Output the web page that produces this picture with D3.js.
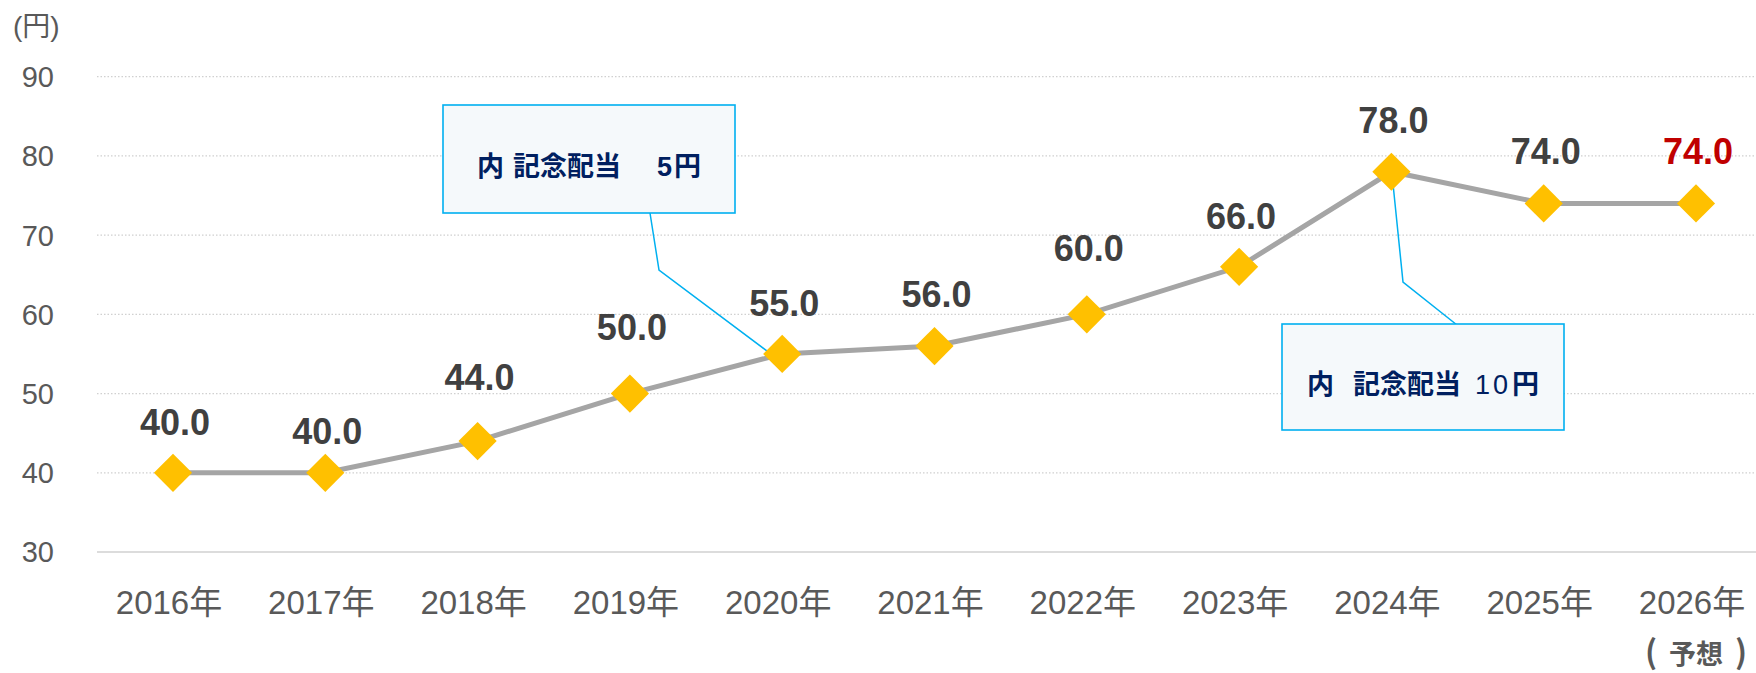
<!DOCTYPE html>
<html>
<head>
<meta charset="utf-8">
<script src="https://cdn.jsdelivr.net/npm/d3@7"></script>
<style>
  body { margin: 0; background: #fff; }
  text { font-family: "Liberation Sans", Arial, "Noto Sans CJK JP", sans-serif; }
</style>
</head>
<body>
<div id="container"></div>
<script>
let w = 1756;
let h = 673;

// DATA
let years = ["2016年", "2017年", "2018年", "2019年", "2020年", "2021年", "2022年", "2023年", "2024年", "2025年", "2026年"];
let dividends = [40, 40, 44, 50, 55, 56, 60, 66, 78, 74, 74];
let yTicks = [30, 40, 50, 60, 70, 80, 90];
let forecastNote = ["(", "予想", ")"];
let unitLabel = "(円)";

// how far each value label sits above its marker (px)
let labelLift = [38, 29, 51, 54, 38, 39, 53, 38, 39, 39, 39];

let viz = d3.select("#container").append("svg")
  .attr("width", w)
  .attr("height", h)
  .style("display", "block");

let x = d3.scalePoint().domain(years).range([173, 1696]);
let y = d3.scaleLinear().domain([30, 90]).range([552, 76.7]);

let gridLeft = 97;
let gridRight = w;

// gridlines
viz.selectAll(".grid").data(yTicks).enter()
  .append("line")
  .attr("class", "grid")
  .attr("x1", gridLeft)
  .attr("x2", gridRight)
  .attr("y1", d => y(d))
  .attr("y2", d => y(d))
  .attr("stroke", "#d0d0d0")
  .attr("stroke-width", d => d == 30 ? 1.5 : 1.3)
  .attr("stroke-dasharray", d => d == 30 ? null : "1.5,2");

// y tick labels
viz.selectAll(".ytick").data(yTicks).enter()
  .append("text")
  .attr("class", "ytick")
  .attr("x", 54)
  .attr("y", d => y(d))
  .attr("dy", "0.36em")
  .attr("text-anchor", "end")
  .attr("font-size", 29)
  .attr("fill", "#595959")
  .text(d => d);

viz.append("text")
  .attr("x", 13)
  .attr("y", 36)
  .attr("font-size", 28)
  .attr("fill", "#595959")
  .text(unitLabel);

// x labels
viz.selectAll(".xtick").data(years).enter()
  .append("text")
  .attr("class", "xtick")
  .attr("x", d => x(d) - 4)
  .attr("y", 614)
  .attr("text-anchor", "middle")
  .attr("font-size", 33)
  .attr("fill", "#595959")
  .text(d => d);

// "(予想)" under the last year, spread out like full-width brackets
let lastX = x(years[years.length - 1]);
let noteOffsets = [-45, 0, 45];
let noteSizes = [32, 27, 32];
viz.selectAll(".forecast").data(forecastNote).enter()
  .append("text")
  .attr("class", "forecast")
  .attr("x", (d, i) => lastX + noteOffsets[i])
  .attr("y", 664)
  .attr("text-anchor", "middle")
  .attr("font-size", (d, i) => noteSizes[i])
  .attr("font-weight", "bold")
  .attr("fill", "#595959")
  .style("font-family", "'Noto Sans CJK JP', sans-serif")
  .text(d => d);

// annotation leader lines (drawn under the markers)
let lineColor = "#00b0f0";
let i2020 = years.indexOf("2020年");
let i2024 = years.indexOf("2024年");

viz.append("polyline")
  .attr("points", [[650, 213], [659, 270], [x(years[i2020]) - 14, y(dividends[i2020]) - 2]].join(" "))
  .attr("fill", "none")
  .attr("stroke", lineColor)
  .attr("stroke-width", 1.5);

viz.append("polyline")
  .attr("points", [[x(years[i2024]) + 2, y(dividends[i2024]) + 16], [1403, 282], [1457, 325]].join(" "))
  .attr("fill", "none")
  .attr("stroke", lineColor)
  .attr("stroke-width", 1.5);

// line
let lineMaker = d3.line()
  .x((d, i) => x(years[i]))
  .y(d => y(d));

viz.append("path")
  .datum(dividends)
  .attr("d", lineMaker)
  .attr("fill", "none")
  .attr("stroke", "#a5a5a5")
  .attr("stroke-width", 5);

// diamonds
viz.selectAll(".marker").data(dividends).enter()
  .append("rect")
  .attr("class", "marker")
  .attr("x", -13.5)
  .attr("y", -13.5)
  .attr("width", 27)
  .attr("height", 27)
  .attr("transform", (d, i) => "translate(" + x(years[i]) + "," + y(d) + ") rotate(45)")
  .attr("fill", "#ffc000");

// value labels
viz.selectAll(".vlabel").data(dividends).enter()
  .append("text")
  .attr("class", "vlabel")
  .attr("x", (d, i) => x(years[i]) + 2)
  .attr("y", (d, i) => y(d) - labelLift[i])
  .attr("text-anchor", "middle")
  .attr("font-size", 36)
  .attr("font-weight", "bold")
  .attr("fill", (d, i) => i == dividends.length - 1 ? "#c00000" : "#404040")
  .text(d => d.toFixed(1));

// annotation boxes
function noteBox(bx, by, bw, bh) {
  viz.append("rect")
    .attr("x", bx)
    .attr("y", by)
    .attr("width", bw)
    .attr("height", bh)
    .attr("fill", "#f5f9fb")
    .attr("stroke", lineColor)
    .attr("stroke-width", 1.6);
}

function noteText(tx, ty, str, weight) {
  viz.append("text")
    .attr("x", tx)
    .attr("y", ty)
    .attr("font-size", 27)
    .attr("font-weight", weight)
    .attr("fill", "#002060")
    .text(str);
}

noteBox(443, 105, 292, 108);
noteText(477, 176, "内", "bold");
noteText(513, 176, "記念配当", "bold");
noteText(657, 176, "5", "bold");
noteText(674, 176, "円", "bold");

noteBox(1282, 324, 282, 106);
noteText(1307, 394, "内", "bold");
noteText(1353, 394, "記念配当", "bold");
noteText(1475, 394, "1", "normal");
noteText(1493, 394, "0", "normal");
noteText(1512, 394, "円", "bold");
</script>
</body>
</html>
